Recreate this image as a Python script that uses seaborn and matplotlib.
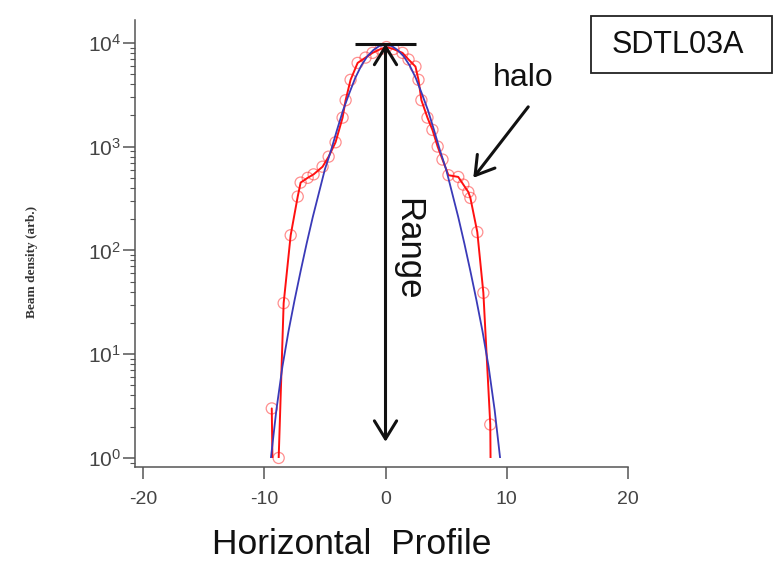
import matplotlib
matplotlib.use("Agg")
import matplotlib.pyplot as plt
import pandas as pd
import seaborn as sns
from matplotlib.patches import Rectangle
from matplotlib.ticker import LogLocator, NullFormatter

# Measured horizontal beam profile (position, density); values below the
# plotted range are empty channels.
pos_measured = [-9.38, -9.10, -8.81, -8.40, -7.82, -7.24, -7.00, -6.42, -5.93,
                -5.19, -4.69, -4.12, -3.54, -3.29, -2.88, -2.30, -1.65, -1.07,
                -0.41, 0.08, 0.66, 1.40, 1.90, 2.47, 2.72, 2.96, 3.46, 3.87,
                4.30, 4.70, 5.19, 6.00, 6.42, 6.83, 7.00, 7.57, 8.07, 8.64, 8.80]
density_measured = [3.0, 0.01, 1.0, 31, 140, 330, 450, 500, 540,
                    640, 800, 1100, 1900, 2800, 4400, 6400, 7200, 8000,
                    8700, 9100, 8700, 8000, 6900, 5900, 4400, 2800, 1900, 1450,
                    1000, 750, 530, 510, 430, 365, 320, 150, 39, 2.1, 0.01]

# Gaussian core fit
pos_fit = [-9.45, -9.0, -8.5, -8.0, -7.5, -7.0, -6.5, -6.0, -5.5, -5.0, -4.5,
           -4.0, -3.5, -3.0, -2.5, -2.0, -1.5, -1.0, -0.5, 0.0, 0.5, 1.0, 1.5,
           2.0, 2.5, 3.0, 3.5, 4.0, 4.5, 5.0, 5.5, 6.0, 6.5, 7.0, 7.5, 8.0,
           8.5, 9.0, 9.45]
density_fit = [1.0, 2.9, 7.6, 16.6, 33.1, 63.1, 117, 209, 355, 603, 912,
               1445, 2239, 3236, 4571, 6026, 7413, 8511, 9333, 9550, 9333,
               8511, 7413, 6026, 4571, 3236, 2239, 1445, 912, 603, 355, 209,
               117, 63.1, 33.1, 16.6, 7.6, 2.9, 1.0]

x_ticks = [-20, -10, 0, 10, 20]
peak_level = 9800      # top bar of the range marker
range_floor = 1.43     # lower end of the range arrow

sns.set_theme(style="ticks")
plt.rcParams["font.family"] = ["Liberation Sans", "DejaVu Sans"]
plt.rcParams["mathtext.fontset"] = "custom"
plt.rcParams["mathtext.rm"] = "Liberation Sans"
plt.rcParams["mathtext.it"] = "Liberation Sans:italic"
plt.rcParams["mathtext.bf"] = "Liberation Sans:bold"
plt.rcParams["axes.unicode_minus"] = False

fig = plt.figure(figsize=(7.74, 5.61), dpi=100)
fig.patch.set_facecolor("white")
ax = fig.add_axes([0.1744, 0.1676, 0.637, 0.7968])
ax.set_facecolor("white")
ax.set_yscale("log")

measured = pd.DataFrame({"pos": pos_measured, "density": density_measured})
fit = pd.DataFrame({"pos": pos_fit, "density": density_fit})

sns.scatterplot(data=measured, x="pos", y="density", ax=ax, marker="o",
                s=64, linewidth=0.9, zorder=2, legend=False)
pts = ax.collections[0]
pts.set_facecolor("none")
pts.set_edgecolor((1.0, 0.2, 0.2, 0.55))

sns.lineplot(data=measured, x="pos", y="density", ax=ax, color="#ff1010",
             lw=1.4, estimator=None, zorder=3)
sns.lineplot(data=fit, x="pos", y="density", ax=ax, color="#3a3ab8",
             lw=1.3, estimator=None, zorder=4)

# curves stop at the 10^0 level
floor_clip = Rectangle((-30, 1.0), 60, 1e7, transform=ax.transData)
for ln in ax.lines:
    ln.set_clip_path(floor_clip)

ax.set_xlim(-20.66, 20.0)
ax.set_ylim(10 ** -0.087, 10 ** 4.22)
ax.set_xticks(x_ticks)
ax.yaxis.set_major_locator(LogLocator(base=10, numticks=10))
ax.yaxis.set_minor_locator(LogLocator(base=10, subs=range(2, 10), numticks=20))
ax.yaxis.set_minor_formatter(NullFormatter())
ax.set_xlabel("")
ax.set_ylabel("")

sns.despine(ax=ax)
for side in ("left", "bottom"):
    ax.spines[side].set_color("#555555")
    ax.spines[side].set_linewidth(1.1)

ax.tick_params(axis="x", direction="out", length=8.5, width=1.1,
               color="#555555", labelsize=14, labelcolor="#444444", pad=9)
ax.tick_params(axis="y", which="major", direction="out", length=9, width=1.1,
               color="#555555", labelsize=15, labelcolor="#444444", pad=1)
ax.tick_params(axis="y", which="minor", direction="out", length=3.8,
               width=0.8, color="#555555")

# range marker
ax.hlines(peak_level, -2.5, 2.5, color="#111111", lw=2.2, zorder=5)
ax.annotate("", xy=(0, range_floor), xytext=(0, peak_level),
            arrowprops=dict(arrowstyle="<->,head_length=0.65,head_width=0.4",
                            mutation_scale=20, lw=2.2, color="#111111",
                            shrinkA=0, shrinkB=0), zorder=5)
ax.text(1.8, 103, "Range", rotation=270, ha="center", va="center",
        fontsize=25, color="#111111")

# halo pointer
ax.annotate("", xy=(7.24, 500), xytext=(11.77, 2415),
            arrowprops=dict(arrowstyle="->,head_length=0.65,head_width=0.4",
                            mutation_scale=20, lw=2.2, color="#111111",
                            shrinkA=0, shrinkB=0), annotation_clip=False)
ax.text(11.36, 4600, "halo", ha="center", va="center", fontsize=23,
        color="#111111")

# label box
fig.add_artist(Rectangle((591 / 774, 1 - 73 / 561), 181 / 774, 57 / 561,
                         transform=fig.transFigure, fill=False,
                         ec="#222222", lw=1.3))
fig.text(678 / 774, 1 - 45 / 561, "SDTL03A", ha="center", va="center",
         fontsize=22, color="#111111")

fig.text(352 / 774, 1 - 545 / 561, "Horizontal  Profile", ha="center",
         va="center", fontsize=25.5, color="#111111")
fig.text(32 / 774, 1 - 262 / 561, "Beam density (arb.)", rotation=90,
         ha="center", va="center", fontsize=9.5, fontweight="bold",
         family=["Liberation Serif", "DejaVu Serif"], color="#333333")

fig.savefig("out.png", dpi=100)
